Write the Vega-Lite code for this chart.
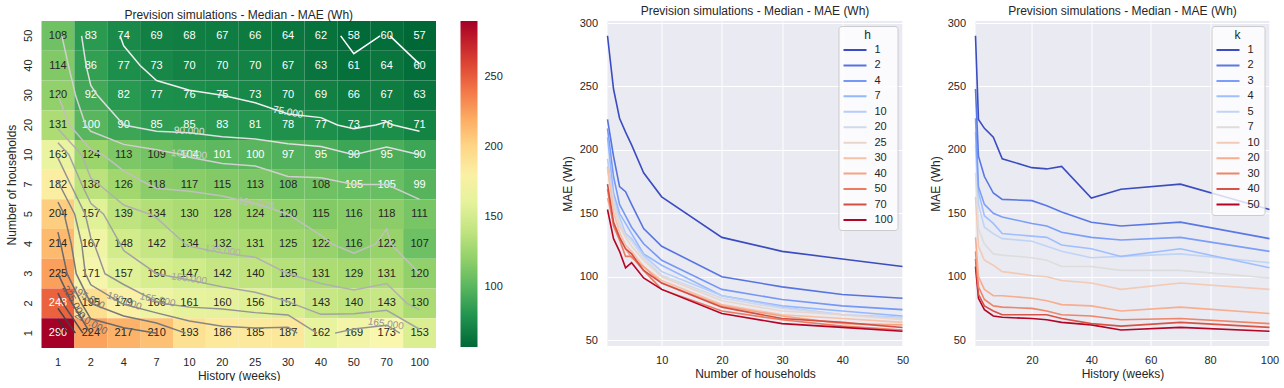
{
"$schema": "https://vega.github.io/schema/vega-lite/v6.json",
"background": "white",
"padding": {"left": 5.5, "top": 5, "right": 0, "bottom": 0},
"config": {
 "font": "Liberation Sans",
 "view": {"stroke": null},
 "axis": {"domain": false, "ticks": false, "labelFontSize": 11, "titleFontSize": 12, "titleFontWeight": "normal", "labelColor": "#262626", "titleColor": "#262626", "gridColor": "white", "gridWidth": 1, "labelFlush": false},
 "title": {"fontSize": 12, "fontWeight": "normal", "color": "#262626", "offset": -1}
},
"datasets": {
 "grid": [
  {"k":50,"h":1,"mae":108},{"k":50,"h":2,"mae":83},{"k":50,"h":4,"mae":74},{"k":50,"h":7,"mae":69},{"k":50,"h":10,"mae":68},{"k":50,"h":20,"mae":67},{"k":50,"h":25,"mae":66},{"k":50,"h":30,"mae":64},{"k":50,"h":40,"mae":62},{"k":50,"h":50,"mae":58},{"k":50,"h":70,"mae":60},{"k":50,"h":100,"mae":57},
  {"k":40,"h":1,"mae":114},{"k":40,"h":2,"mae":86},{"k":40,"h":4,"mae":77},{"k":40,"h":7,"mae":73},{"k":40,"h":10,"mae":70},{"k":40,"h":20,"mae":70},{"k":40,"h":25,"mae":70},{"k":40,"h":30,"mae":67},{"k":40,"h":40,"mae":63},{"k":40,"h":50,"mae":61},{"k":40,"h":70,"mae":64},{"k":40,"h":100,"mae":60},
  {"k":30,"h":1,"mae":120},{"k":30,"h":2,"mae":92},{"k":30,"h":4,"mae":82},{"k":30,"h":7,"mae":77},{"k":30,"h":10,"mae":76},{"k":30,"h":20,"mae":75},{"k":30,"h":25,"mae":73},{"k":30,"h":30,"mae":70},{"k":30,"h":40,"mae":69},{"k":30,"h":50,"mae":66},{"k":30,"h":70,"mae":67},{"k":30,"h":100,"mae":63},
  {"k":20,"h":1,"mae":131},{"k":20,"h":2,"mae":100},{"k":20,"h":4,"mae":90},{"k":20,"h":7,"mae":85},{"k":20,"h":10,"mae":85},{"k":20,"h":20,"mae":83},{"k":20,"h":25,"mae":81},{"k":20,"h":30,"mae":78},{"k":20,"h":40,"mae":77},{"k":20,"h":50,"mae":73},{"k":20,"h":70,"mae":76},{"k":20,"h":100,"mae":71},
  {"k":10,"h":1,"mae":163},{"k":10,"h":2,"mae":124},{"k":10,"h":4,"mae":113},{"k":10,"h":7,"mae":109},{"k":10,"h":10,"mae":104},{"k":10,"h":20,"mae":101},{"k":10,"h":25,"mae":100},{"k":10,"h":30,"mae":97},{"k":10,"h":40,"mae":95},{"k":10,"h":50,"mae":90},{"k":10,"h":70,"mae":95},{"k":10,"h":100,"mae":90},
  {"k":7,"h":1,"mae":182},{"k":7,"h":2,"mae":138},{"k":7,"h":4,"mae":126},{"k":7,"h":7,"mae":118},{"k":7,"h":10,"mae":117},{"k":7,"h":20,"mae":115},{"k":7,"h":25,"mae":113},{"k":7,"h":30,"mae":108},{"k":7,"h":40,"mae":108},{"k":7,"h":50,"mae":105},{"k":7,"h":70,"mae":105},{"k":7,"h":100,"mae":99},
  {"k":5,"h":1,"mae":204},{"k":5,"h":2,"mae":157},{"k":5,"h":4,"mae":139},{"k":5,"h":7,"mae":134},{"k":5,"h":10,"mae":130},{"k":5,"h":20,"mae":128},{"k":5,"h":25,"mae":124},{"k":5,"h":30,"mae":120},{"k":5,"h":40,"mae":115},{"k":5,"h":50,"mae":116},{"k":5,"h":70,"mae":118},{"k":5,"h":100,"mae":111},
  {"k":4,"h":1,"mae":214},{"k":4,"h":2,"mae":167},{"k":4,"h":4,"mae":148},{"k":4,"h":7,"mae":142},{"k":4,"h":10,"mae":134},{"k":4,"h":20,"mae":132},{"k":4,"h":25,"mae":131},{"k":4,"h":30,"mae":125},{"k":4,"h":40,"mae":122},{"k":4,"h":50,"mae":116},{"k":4,"h":70,"mae":122},{"k":4,"h":100,"mae":107},
  {"k":3,"h":1,"mae":225},{"k":3,"h":2,"mae":171},{"k":3,"h":4,"mae":157},{"k":3,"h":7,"mae":150},{"k":3,"h":10,"mae":147},{"k":3,"h":20,"mae":142},{"k":3,"h":25,"mae":140},{"k":3,"h":30,"mae":135},{"k":3,"h":40,"mae":131},{"k":3,"h":50,"mae":129},{"k":3,"h":70,"mae":131},{"k":3,"h":100,"mae":120},
  {"k":2,"h":1,"mae":248},{"k":2,"h":2,"mae":195},{"k":2,"h":4,"mae":179},{"k":2,"h":7,"mae":166},{"k":2,"h":10,"mae":161},{"k":2,"h":20,"mae":160},{"k":2,"h":25,"mae":156},{"k":2,"h":30,"mae":151},{"k":2,"h":40,"mae":143},{"k":2,"h":50,"mae":140},{"k":2,"h":70,"mae":143},{"k":2,"h":100,"mae":130},
  {"k":1,"h":1,"mae":290},{"k":1,"h":2,"mae":224},{"k":1,"h":4,"mae":217},{"k":1,"h":7,"mae":210},{"k":1,"h":10,"mae":193},{"k":1,"h":20,"mae":186},{"k":1,"h":25,"mae":185},{"k":1,"h":30,"mae":187},{"k":1,"h":40,"mae":162},{"k":1,"h":50,"mae":169},{"k":1,"h":70,"mae":173},{"k":1,"h":100,"mae":153}
 ],
 "contour": [
  {"lv":60,"s":"60a","i":0,"x":9.1,"y":0.5},{"lv":60,"s":"60a","i":1,"x":9.5,"y":1.1},{"lv":60,"s":"60a","i":2,"x":10.3,"y":0.5},
  {"lv":60,"s":"60b","i":0,"x":10.6,"y":0.5},{"lv":60,"s":"60b","i":1,"x":11.5,"y":1.45},
  {"lv":75,"s":"75","i":0,"x":2.389,"y":0.5},{"lv":75,"s":"75","i":1,"x":2.5,"y":0.833},{"lv":75,"s":"75","i":2,"x":3.0,"y":1.5},{"lv":75,"s":"75","i":3,"x":3.5,"y":2.0},{"lv":75,"s":"75","i":4,"x":4.5,"y":2.33},{"lv":75,"s":"75","i":5,"x":5.5,"y":2.5},{"lv":75,"s":"75","i":6,"x":6.5,"y":2.75},{"lv":75,"s":"75","i":7,"x":7.5,"y":3.125},{"lv":75,"s":"75","i":8,"x":8.5,"y":3.25},{"lv":75,"s":"75","i":9,"x":9.0,"y":3.5},{"lv":75,"s":"75","i":10,"x":9.5,"y":3.62},{"lv":75,"s":"75","i":11,"x":10.17,"y":3.5},{"lv":75,"s":"75","i":12,"x":10.5,"y":3.39},{"lv":75,"s":"75","i":13,"x":10.7,"y":3.5},{"lv":75,"s":"75","i":14,"x":11.5,"y":3.71},
  {"lv":90,"s":"90","i":0,"x":1.22,"y":0.5},{"lv":90,"s":"90","i":1,"x":1.357,"y":1.5},{"lv":90,"s":"90","i":2,"x":1.5,"y":2.167},{"lv":90,"s":"90","i":3,"x":1.7,"y":2.5},{"lv":90,"s":"90","i":4,"x":2.5,"y":3.5},{"lv":90,"s":"90","i":5,"x":3.5,"y":3.71},{"lv":90,"s":"90","i":6,"x":4.5,"y":3.76},{"lv":90,"s":"90","i":7,"x":5.5,"y":3.89},{"lv":90,"s":"90","i":8,"x":6.5,"y":3.97},{"lv":90,"s":"90","i":9,"x":7.5,"y":4.13},{"lv":90,"s":"90","i":10,"x":8.5,"y":4.22},{"lv":90,"s":"90","i":11,"x":9.5,"y":4.5},{"lv":90,"s":"90","i":12,"x":10.5,"y":4.24},{"lv":90,"s":"90","i":13,"x":11.5,"y":4.5},
  {"lv":105,"s":"105","i":0,"x":0.62,"y":0.5},{"lv":105,"s":"105","i":1,"x":0.82,"y":1.5},{"lv":105,"s":"105","i":2,"x":1.036,"y":2.5},{"lv":105,"s":"105","i":3,"x":1.339,"y":3.5},{"lv":105,"s":"105","i":4,"x":1.5,"y":3.71},{"lv":105,"s":"105","i":5,"x":2.5,"y":4.15},{"lv":105,"s":"105","i":6,"x":3.5,"y":4.33},{"lv":105,"s":"105","i":7,"x":4.3,"y":4.5},{"lv":105,"s":"105","i":8,"x":4.5,"y":4.58},{"lv":105,"s":"105","i":9,"x":5.5,"y":4.79},{"lv":105,"s":"105","i":10,"x":6.5,"y":4.88},{"lv":105,"s":"105","i":11,"x":7.5,"y":5.23},{"lv":105,"s":"105","i":12,"x":8.5,"y":5.27},{"lv":105,"s":"105","i":13,"x":9.5,"y":5.5},{"lv":105,"s":"105","i":14,"x":10.5,"y":5.5},{"lv":105,"s":"105","i":15,"x":11.5,"y":6.0},
  {"lv":120,"s":"120","i":0,"x":0.5,"y":2.5},{"lv":120,"s":"120","i":1,"x":0.855,"y":3.5},{"lv":120,"s":"120","i":2,"x":1.5,"y":4.33},{"lv":120,"s":"120","i":3,"x":1.864,"y":4.5},{"lv":120,"s":"120","i":4,"x":2.5,"y":5.04},{"lv":120,"s":"120","i":5,"x":3.25,"y":5.5},{"lv":120,"s":"120","i":6,"x":3.5,"y":5.625},{"lv":120,"s":"120","i":7,"x":4.5,"y":5.73},{"lv":120,"s":"120","i":8,"x":5.5,"y":5.885},{"lv":120,"s":"120","i":9,"x":6.5,"y":6.136},{"lv":120,"s":"120","i":10,"x":7.5,"y":6.5},{"lv":120,"s":"120","i":11,"x":8.5,"y":7.214},{"lv":120,"s":"120","i":12,"x":8.833,"y":7.5},{"lv":120,"s":"120","i":13,"x":9.5,"y":7.808},{"lv":120,"s":"120","i":14,"x":10.167,"y":7.5},{"lv":120,"s":"120","i":15,"x":10.5,"y":7.0},{"lv":120,"s":"120","i":16,"x":10.633,"y":7.5},{"lv":120,"s":"120","i":17,"x":11.5,"y":8.5},
  {"lv":135,"s":"135","i":0,"x":0.5,"y":3.625},{"lv":135,"s":"135","i":1,"x":1.218,"y":4.5},{"lv":135,"s":"135","i":2,"x":1.5,"y":5.286},{"lv":135,"s":"135","i":3,"x":1.75,"y":5.5},{"lv":135,"s":"135","i":4,"x":2.5,"y":6.192},{"lv":135,"s":"135","i":5,"x":3.3,"y":6.5},{"lv":135,"s":"135","i":6,"x":3.5,"y":6.625},{"lv":135,"s":"135","i":7,"x":4.375,"y":7.5},{"lv":135,"s":"135","i":8,"x":4.5,"y":7.577},{"lv":135,"s":"135","i":9,"x":5.5,"y":7.8},{"lv":135,"s":"135","i":10,"x":6.5,"y":7.944},{"lv":135,"s":"135","i":11,"x":7.5,"y":8.5},{"lv":135,"s":"135","i":12,"x":8.5,"y":8.833},{"lv":135,"s":"135","i":13,"x":9.5,"y":9.045},{"lv":135,"s":"135","i":14,"x":10.5,"y":8.833},{"lv":135,"s":"135","i":15,"x":11.115,"y":9.5},{"lv":135,"s":"135","i":16,"x":11.5,"y":9.717},
  {"lv":150,"s":"150","i":0,"x":0.5,"y":4.094},{"lv":150,"s":"150","i":1,"x":0.833,"y":4.5},{"lv":150,"s":"150","i":2,"x":1.227,"y":5.5},{"lv":150,"s":"150","i":3,"x":1.5,"y":6.132},{"lv":150,"s":"150","i":4,"x":1.889,"y":6.5},{"lv":150,"s":"150","i":5,"x":2.395,"y":7.5},{"lv":150,"s":"150","i":6,"x":2.5,"y":7.722},{"lv":150,"s":"150","i":7,"x":3.5,"y":8.5},{"lv":150,"s":"150","i":8,"x":4.5,"y":8.714},{"lv":150,"s":"150","i":9,"x":5.5,"y":8.944},{"lv":150,"s":"150","i":10,"x":6.5,"y":9.125},{"lv":150,"s":"150","i":11,"x":7.5,"y":9.4375},{"lv":150,"s":"150","i":12,"x":7.625,"y":9.5},{"lv":150,"s":"150","i":13,"x":8.5,"y":9.868},{"lv":150,"s":"150","i":14,"x":9.5,"y":9.845},{"lv":150,"s":"150","i":15,"x":10.5,"y":9.733},{"lv":150,"s":"150","i":16,"x":11.5,"y":10.37},
  {"lv":165,"s":"165a","i":0,"x":0.5,"y":4.605},{"lv":165,"s":"165a","i":1,"x":0.886,"y":5.5},{"lv":165,"s":"165a","i":2,"x":1.33,"y":6.5},{"lv":165,"s":"165a","i":3,"x":1.5,"y":7.3},{"lv":165,"s":"165a","i":4,"x":1.605,"y":7.5},{"lv":165,"s":"165a","i":5,"x":1.929,"y":8.5},{"lv":165,"s":"165a","i":6,"x":2.5,"y":8.864},{"lv":165,"s":"165a","i":7,"x":3.5,"y":9.4375},{"lv":165,"s":"165a","i":8,"x":3.7,"y":9.5},{"lv":165,"s":"165a","i":9,"x":4.5,"y":9.625},{"lv":165,"s":"165a","i":10,"x":5.5,"y":9.692},{"lv":165,"s":"165a","i":11,"x":6.5,"y":9.81},{"lv":165,"s":"165a","i":12,"x":7.5,"y":9.889},{"lv":165,"s":"165a","i":13,"x":8.38,"y":10.5},
  {"lv":165,"s":"165b","i":0,"x":8.929,"y":10.5},{"lv":165,"s":"165b","i":1,"x":9.5,"y":10.362},{"lv":165,"s":"165b","i":2,"x":10.5,"y":10.233},{"lv":165,"s":"165b","i":3,"x":10.9,"y":10.5},
  {"lv":180,"s":"180","i":0,"x":0.5,"y":5.395},{"lv":180,"s":"180","i":1,"x":0.545,"y":5.5},{"lv":180,"s":"180","i":2,"x":1.011,"y":6.5},{"lv":180,"s":"180","i":3,"x":1.223,"y":7.5},{"lv":180,"s":"180","i":4,"x":1.333,"y":8.5},{"lv":180,"s":"180","i":5,"x":1.5,"y":8.875},{"lv":180,"s":"180","i":6,"x":2.4375,"y":9.5},{"lv":180,"s":"180","i":7,"x":2.5,"y":9.526},{"lv":180,"s":"180","i":8,"x":3.5,"y":9.818},{"lv":180,"s":"180","i":9,"x":4.5,"y":10.094},{"lv":180,"s":"180","i":10,"x":5.5,"y":10.269},{"lv":180,"s":"180","i":11,"x":6.5,"y":10.328},{"lv":180,"s":"180","i":12,"x":7.5,"y":10.306},{"lv":180,"s":"180","i":13,"x":7.78,"y":10.5},
  {"lv":195,"s":"195","i":0,"x":0.5,"y":6.091},{"lv":195,"s":"195","i":1,"x":0.691,"y":6.5},{"lv":195,"s":"195","i":2,"x":0.904,"y":7.5},{"lv":195,"s":"195","i":3,"x":1.056,"y":8.5},{"lv":195,"s":"195","i":4,"x":1.5,"y":9.5},{"lv":195,"s":"195","i":5,"x":2.5,"y":9.921},{"lv":195,"s":"195","i":6,"x":3.5,"y":10.159},{"lv":195,"s":"195","i":7,"x":4.382,"y":10.5},
  {"lv":210,"s":"210","i":0,"x":0.5,"y":7.1},{"lv":210,"s":"210","i":1,"x":0.585,"y":7.5},{"lv":210,"s":"210","i":2,"x":0.778,"y":8.5},{"lv":210,"s":"210","i":3,"x":1.217,"y":9.5},{"lv":210,"s":"210","i":4,"x":1.5,"y":10.017},{"lv":210,"s":"210","i":5,"x":2.5,"y":10.316},{"lv":210,"s":"210","i":6,"x":3.5,"y":10.5},
  {"lv":225,"s":"225","i":0,"x":0.5,"y":8.5},{"lv":225,"s":"225","i":1,"x":0.934,"y":9.5},{"lv":225,"s":"225","i":2,"x":1.485,"y":10.5},
  {"lv":240,"s":"240","i":0,"x":0.5,"y":9.152},{"lv":240,"s":"240","i":1,"x":0.651,"y":9.5},{"lv":240,"s":"240","i":2,"x":1.258,"y":10.5},
  {"lv":255,"s":"255","i":0,"x":0.5,"y":9.667},{"lv":255,"s":"255","i":1,"x":1.03,"y":10.5},
  {"lv":270,"s":"270","i":0,"x":0.5,"y":10.024},{"lv":270,"s":"270","i":1,"x":0.803,"y":10.5},
  {"lv":285,"s":"285","i":0,"x":0.5,"y":10.381},{"lv":285,"s":"285","i":1,"x":0.576,"y":10.5}
 ],
 "clabels": [
  {"t":"75.000","lv":75,"x":7.5,"y":3.07,"a":10},
  {"t":"90.000","lv":90,"x":4.49,"y":3.7,"a":3},
  {"t":"105.000","lv":105,"x":4.49,"y":4.49,"a":5},
  {"t":"120.000","lv":120,"x":6.52,"y":6.13,"a":8},
  {"t":"135.000","lv":135,"x":5.51,"y":7.72,"a":8},
  {"t":"150.000","lv":150,"x":4.49,"y":8.67,"a":8},
  {"t":"165.000","lv":165,"x":3.53,"y":9.38,"a":12},
  {"t":"165.000","lv":165,"x":10.47,"y":10.19,"a":8},
  {"t":"180.000","lv":180,"x":2.52,"y":9.42,"a":20},
  {"t":"195.000","lv":195,"x":1.42,"y":9.31,"a":30},
  {"t":"210.000","lv":210,"x":1.5,"y":10.16,"a":30},
  {"t":"225.000","lv":225,"x":0.98,"y":9.46,"a":60}
 ]
},
"spacing": 171,
"bounds": "flush",
"resolve": {"scale": {"color": "independent"}, "legend": {"color": "independent"}},
"hconcat": [
 {
  "title": "Prevision simulations - Median - MAE (Wh)",
  "width": 394.5,
  "height": 327,
  "layer": [
   {
    "data": {"name": "grid"},
    "encoding": {
     "x": {"field": "h", "type": "ordinal", "title": "History (weeks)", "scale": {"paddingInner": 0, "paddingOuter": 0}, "axis": {"labelAngle": 0, "labelPadding": 8, "titlePadding": 3}},
     "y": {"field": "k", "type": "ordinal", "sort": "descending", "title": "Number of households", "scale": {"paddingInner": 0, "paddingOuter": 0}, "axis": {"labelAngle": 270, "labelAlign": "center", "labelBaseline": "bottom", "labelPadding": 8, "titlePadding": 4}}
    },
    "layer": [
     {"mark": {"type": "rect"},
      "encoding": {"color": {"field": "mae", "type": "quantitative", "scale": {"scheme": {"name": "redyellowgreen", "extent": [1, 0]}, "domain": [57, 290]},
        "legend": {"orient": "right", "offset": 24, "title": null, "direction": "vertical", "gradientLength": 326, "gradientThickness": 17, "gradientStrokeWidth": 0, "values": [100, 150, 200, 250], "labelOffset": 7, "labelFontSize": 11, "labelColor": "#262626"}}}},
     {"mark": {"type": "text", "fontSize": 11},
      "encoding": {"text": {"field": "mae", "type": "quantitative"},
       "color": {"condition": {"test": "datum.mae < 106 || datum.mae > 235", "value": "#ffffff"}, "value": "#262626"}}}
    ]
   },
   {
    "layer": [
     {"data": {"name": "contour"}, "mark": {"type": "line", "strokeWidth": 1.5},
      "encoding": {
       "x": {"field": "x", "type": "quantitative", "scale": {"domain": [0, 12], "nice": false, "zero": false}, "axis": null},
       "y": {"field": "y", "type": "quantitative", "scale": {"domain": [0, 11], "nice": false, "zero": false, "reverse": true}, "axis": null},
       "detail": {"field": "s", "type": "nominal"},
       "order": {"field": "i", "type": "quantitative"},
       "stroke": {"field": "lv", "type": "quantitative", "scale": {"domain": [60, 285], "range": ["#ffffff", "#2a2a2a"]}, "legend": null}
      }},
     {"data": {"name": "clabels"}, "mark": {"type": "text", "fontSize": 10},
      "encoding": {
       "x": {"field": "x", "type": "quantitative", "scale": {"domain": [0, 12], "nice": false, "zero": false}, "axis": null},
       "y": {"field": "y", "type": "quantitative", "scale": {"domain": [0, 11], "nice": false, "zero": false, "reverse": true}, "axis": null},
       "text": {"field": "t", "type": "nominal"},
       "angle": {"field": "a", "type": "quantitative", "scale": null},
       "fill": {"field": "lv", "type": "quantitative", "scale": {"domain": [60, 285], "range": ["#ffffff", "#2a2a2a"]}, "legend": null}
      }}
    ]
   }
  ],
  "resolve": {"scale": {"x": "independent", "y": "independent"}}
 },
 {
  "spacing": 73,
  "bounds": "flush",
  "resolve": {"scale": {"color": "independent"}, "legend": {"color": "independent"}},
  "hconcat": [
   {
    "title": "Prevision simulations - Median - MAE (Wh)",
    "width": 295,
    "height": 325,
    "view": {"fill": "#EAEAF2"},
    "data": {"name": "grid"},
    "mark": {"type": "line", "strokeWidth": 1.6},
    "encoding": {
     "x": {"field": "k", "type": "quantitative", "title": "Number of households", "scale": {"domain": [1, 50], "nice": false, "zero": false}, "axis": {"values": [10, 20, 30, 40, 50], "labelPadding": 8, "titlePadding": 3}},
     "y": {"field": "mae", "type": "quantitative", "title": "MAE (Wh)", "scale": {"domain": [45.35, 301.65], "nice": false, "zero": false}, "axis": {"values": [50, 100, 150, 200, 250, 300], "labelPadding": 10, "titlePadding": 5}},
     "color": {"field": "h", "type": "ordinal", "scale": {"domain": [1, 2, 4, 7, 10, 20, 25, 30, 40, 50, 70, 100], "range": ["#3b4cc0", "#5674e0", "#7598f6", "#95b7ff", "#b4cdfa", "#d1daea", "#e8d6cc", "#f6c1a7", "#f6a383", "#eb7c61", "#d44e42", "#b40426"]},
      "legend": {"orient": "top-right", "offset": 5, "title": "h", "titleAnchor": "middle", "titleFontSize": 12, "titleFontWeight": "normal", "titleColor": "#262626", "titlePadding": 2, "labelFontSize": 11, "labelColor": "#262626", "symbolType": "stroke", "symbolSize": 529, "symbolStrokeWidth": 2, "clipHeight": 12, "rowPadding": 3.45, "labelOffset": 7, "padding": 4, "fillColor": "rgba(255,255,255,0.8)", "strokeColor": "#cccccc", "cornerRadius": 3}}
    }
   },
   {
    "title": "Prevision simulations - Median - MAE (Wh)",
    "width": 294,
    "height": 325,
    "view": {"fill": "#EAEAF2"},
    "data": {"name": "grid"},
    "mark": {"type": "line", "strokeWidth": 1.6},
    "encoding": {
     "x": {"field": "h", "type": "quantitative", "title": "History (weeks)", "scale": {"domain": [1, 100], "nice": false, "zero": false}, "axis": {"values": [20, 40, 60, 80, 100], "labelPadding": 8, "titlePadding": 3}},
     "y": {"field": "mae", "type": "quantitative", "title": "MAE (Wh)", "scale": {"domain": [45.35, 301.65], "nice": false, "zero": false}, "axis": {"values": [50, 100, 150, 200, 250, 300], "labelPadding": 10, "titlePadding": 5}},
     "color": {"field": "k", "type": "ordinal", "scale": {"domain": [1, 2, 3, 4, 5, 7, 10, 20, 30, 40, 50], "range": ["#3b4cc0", "#5978e3", "#7b9ef9", "#9fbeff", "#c0d4f5", "#dddddd", "#f2cab6", "#f7ad8e", "#ee8568", "#d75345", "#b40426"]},
      "legend": {"orient": "top-right", "offset": 5, "title": "k", "titleAnchor": "middle", "titleFontSize": 12, "titleFontWeight": "normal", "titleColor": "#262626", "titlePadding": 2, "labelFontSize": 11, "labelColor": "#262626", "symbolType": "stroke", "symbolSize": 529, "symbolStrokeWidth": 2, "clipHeight": 12, "rowPadding": 3.45, "labelOffset": 7, "padding": 4, "fillColor": "rgba(255,255,255,0.8)", "strokeColor": "#cccccc", "cornerRadius": 3}}
    }
   }
  ]
 }
]
}
